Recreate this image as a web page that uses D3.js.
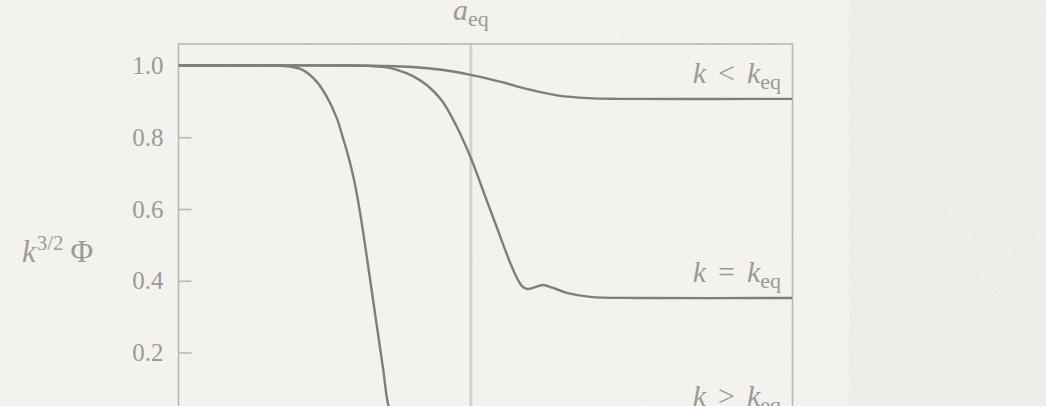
<!DOCTYPE html>
<html>
<head>
<meta charset="utf-8">
<script src="https://cdn.jsdelivr.net/npm/d3@7"></script>
<style>
  html, body { margin: 0; padding: 0; background: #f4f3ef; }
  svg { display: block; }
  text { font-family: "Liberation Serif", "DejaVu Serif", serif; fill: #9a9a95; }
</style>
</head>
<body>
<svg id="chart" width="1046" height="406"></svg>
<script>
// ---- data (x = log10(a / a_eq), y = k^{3/2} Phi) ----
const xLow  = [-2.0, -0.8, -0.6, -0.4, -0.2, 0.0, 0.2, 0.4, 0.6, 0.8, 1.0, 2.2];
const yLow  = [1.0, 1.0, 0.999, 0.996, 0.988, 0.974, 0.955, 0.933, 0.916, 0.909, 0.907, 0.907];

const xEq   = [-2.0, -0.8, -0.7, -0.6, -0.5, -0.4, -0.3, -0.2, -0.1, 0.0, 0.1, 0.179, 0.267, 0.322, 0.350, 0.384, 0.425, 0.493, 0.562, 0.657, 0.814, 1.156, 2.2];
const yEq   = [1.0, 1.0, 0.999, 0.996, 0.987, 0.971, 0.945, 0.903, 0.832, 0.742, 0.633, 0.547, 0.452, 0.402, 0.385, 0.377, 0.380, 0.388, 0.380, 0.366, 0.355, 0.352, 0.352];

const xHigh = [-2.0, -1.36, -1.30, -1.237, -1.148, -1.055, -0.986, -0.918, -0.875, -0.841, -0.80, -0.76, -0.72, -0.68, -0.64, -0.60, -0.56, -0.52, -0.48, 2.2];
const yHigh = [1.0, 1.0, 0.999, 0.997, 0.987, 0.955, 0.913, 0.854, 0.798, 0.751, 0.683, 0.595, 0.489, 0.377, 0.265, 0.153, 0.045, 0.010, 0.005, 0.005];

const yTickValues = [0.2, 0.4, 0.6, 0.8, 1.0];
const seriesLabels = [
  { rel: "<", values: yLow },
  { rel: "=", values: yEq },
  { rel: ">", values: yHigh }
];
const xEquality = 0;      // a = a_eq
const xDomain = [-2.0, 2.2];
const yDomainFrame = [-0.1, 1.06];

// ---- layout ----
const svg = d3.select("#chart");
const W = 1046, H = 406;

// paper texture
const defs = svg.append("defs");
const f = defs.append("filter").attr("id", "paper").attr("x", 0).attr("y", 0).attr("width", "100%").attr("height", "100%");
f.append("feTurbulence").attr("type", "fractalNoise").attr("baseFrequency", 0.9).attr("numOctaves", 3).attr("seed", 4).attr("result", "n");
f.append("feColorMatrix").attr("in", "n").attr("type", "matrix")
  .attr("values", "0 0 0 0 0.55  0 0 0 0 0.53  0 0 0 0 0.48  0 0 0 -1.2 0.75");

svg.append("rect").attr("width", W).attr("height", H).attr("fill", "#f4f3ef");
svg.append("rect").attr("x", 849).attr("width", W - 849).attr("height", H).attr("fill", "#f0eee9");
svg.append("rect").attr("width", 849).attr("height", H).attr("filter", "url(#paper)").attr("opacity", 0.12);
svg.append("rect").attr("x", 849).attr("width", W - 849).attr("height", H).attr("filter", "url(#paper)").attr("opacity", 0.22);

const x = d3.scaleLinear().domain(xDomain).range([178.5, 792.5]);
const y = d3.scaleLinear().domain([0, 1]).range([424.25, 65.5]);

const frameColor = "#b9b9b2";
const curveColor = "#7e7e7a";

// vertical a_eq line
svg.append("line")
  .attr("x1", x(xEquality)).attr("x2", x(xEquality))
  .attr("y1", y(yDomainFrame[1])).attr("y2", y(yDomainFrame[0]))
  .attr("stroke", "#d2d2c9").attr("stroke-width", 3);

// frame
svg.append("rect")
  .attr("x", x(xDomain[0])).attr("y", y(yDomainFrame[1]))
  .attr("width", x(xDomain[1]) - x(xDomain[0]))
  .attr("height", y(yDomainFrame[0]) - y(yDomainFrame[1]))
  .attr("fill", "none").attr("stroke", frameColor).attr("stroke-width", 1.6);

// y axis (ticks inward)
const yAxis = d3.axisLeft(y).tickValues(yTickValues).tickFormat(d3.format(".1f"))
  .tickSizeInner(-13).tickSizeOuter(0).tickPadding(15);
const gAx = svg.append("g").attr("transform", `translate(${x(xDomain[0])},0)`).call(yAxis);
gAx.select(".domain").remove();
gAx.selectAll("line").attr("stroke", frameColor).attr("stroke-width", 1.6);
gAx.selectAll("text").attr("font-size", 25).attr("fill", "#9a9a95")
  .style("font-family", "'Liberation Serif', serif");

// curves
const line = d3.line().x(d => x(d[0])).y(d => y(d[1])).curve(d3.curveCatmullRom.alpha(0.5));
const clip = defs.append("clipPath").attr("id", "plotclip");
clip.append("rect").attr("x", x(xDomain[0])).attr("y", y(yDomainFrame[1]))
  .attr("width", x(xDomain[1]) - x(xDomain[0])).attr("height", y(yDomainFrame[0]) - y(yDomainFrame[1]));

const series = [[xLow, yLow], [xEq, yEq], [xHigh, yHigh]];
svg.append("g").attr("clip-path", "url(#plotclip)")
  .selectAll("path").data(series).join("path")
  .attr("d", s => line(s[0].map((v, i) => [v, s[1][i]])))
  .attr("fill", "none").attr("stroke", curveColor).attr("stroke-width", 2.4)
  .attr("stroke-linejoin", "round");

// curve labels
seriesLabels.forEach(s => {
  const last = s.values[s.values.length - 1];
  const t = svg.append("text").attr("x", 781).attr("y", y(last) - 16)
    .attr("text-anchor", "end").attr("font-size", 30);
  t.append("tspan").attr("font-style", "italic").text("k");
  t.append("tspan").attr("dx", 12).text(s.rel);
  t.append("tspan").attr("dx", 12).attr("font-style", "italic").text("k");
  t.append("tspan").attr("font-size", 22).attr("dy", 6).text("eq");
});

// a_eq label
const ta = svg.append("text").attr("x", x(xEquality)).attr("y", 20)
  .attr("text-anchor", "middle").attr("font-size", 30);
ta.append("tspan").attr("font-style", "italic").text("a");
ta.append("tspan").attr("font-size", 22).attr("dy", 6).text("eq");

// y label
const ty = svg.append("text").attr("x", 22).attr("y", 262).attr("font-size", 31);
ty.append("tspan").attr("font-style", "italic").text("k");
ty.append("tspan").attr("font-size", 21).attr("dy", -12).attr("dx", 1).text("3/2");
ty.append("tspan").attr("dy", 12).attr("dx", 7).text("Φ");
</script>
</body>
</html>
